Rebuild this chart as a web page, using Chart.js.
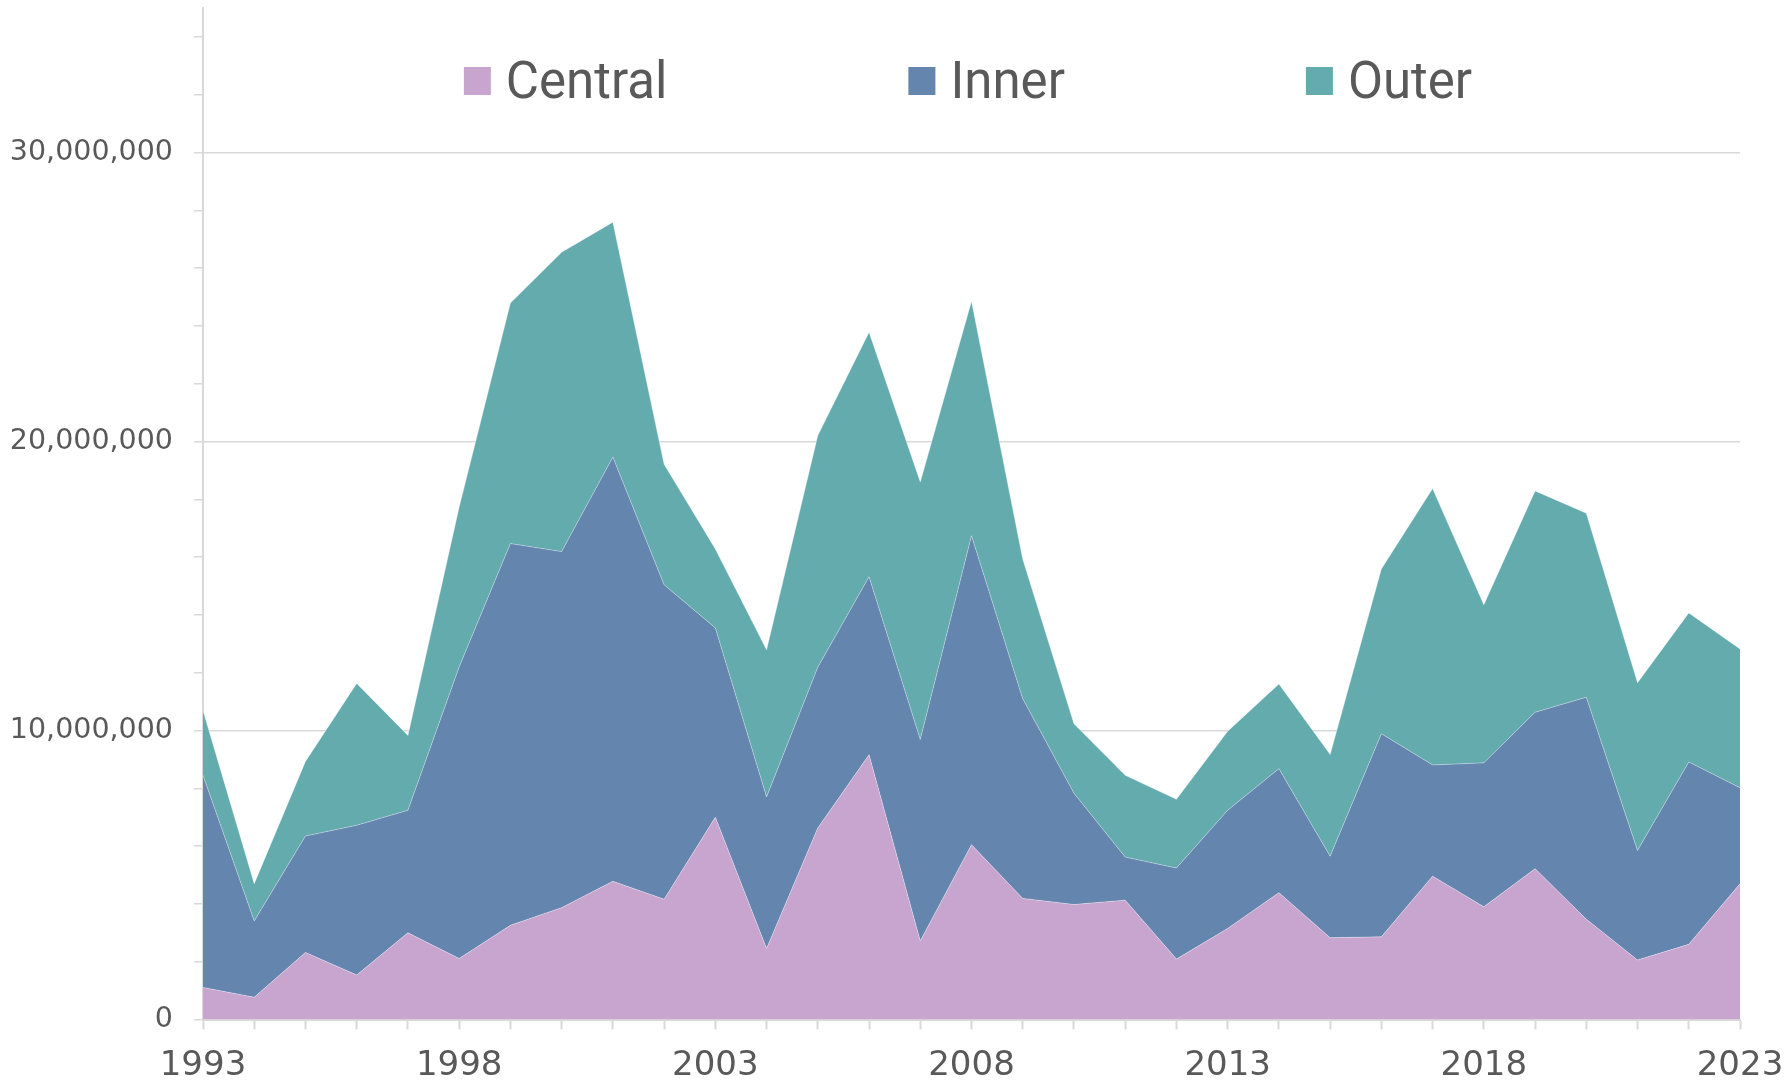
<!DOCTYPE html>
<html>
<head>
<meta charset="utf-8">
<script src="https://cdn.jsdelivr.net/npm/chart.js@4/dist/chart.umd.min.js"></script>
<style>
  html, body { margin: 0; padding: 0; background: #ffffff; overflow: hidden; }
  #wrap { width: 1792px; height: 1086px; }
</style>
</head>
<body>
<div id="wrap"><canvas id="c" width="1792" height="1086"></canvas></div>
<script>
const years = [1993,1994,1995,1996,1997,1998,1999,2000,2001,2002,2003,2004,2005,2006,2007,2008,2009,2010,2011,2012,2013,2014,2015,2016,2017,2018,2019,2020,2021,2022,2023];
const seriesNames = ['Central', 'Inner', 'Outer'];
const central = [1110000,770000,2320000,1540000,3000000,2110000,3260000,3870000,4780000,4160000,7000000,2460000,6630000,9160000,2720000,6050000,4190000,3980000,4130000,2090000,3150000,4390000,2830000,2860000,4960000,3900000,5220000,3470000,2060000,2600000,4700000];
const inner = [7340000,2640000,4030000,5180000,4240000,10090000,13210000,12320000,14680000,10880000,6550000,5240000,5560000,6160000,6970000,10690000,6910000,3850000,1490000,3150000,4090000,4290000,2820000,7030000,3850000,4980000,5410000,7680000,3790000,6310000,3320000];
const outer = [2240000,1290000,2580000,4910000,2590000,5530000,8320000,10360000,8130000,4170000,2730000,5090000,8020000,8460000,8910000,8110000,4830000,2400000,2830000,2380000,2730000,2930000,3520000,5700000,9560000,5470000,7660000,6370000,5800000,5160000,4800000];
const yTickValues = [0, 10000000, 20000000, 30000000];
const yMinorTicks = [0,2000000,4000000,6000000,8000000,10000000,12000000,14000000,16000000,18000000,20000000,22000000,24000000,26000000,28000000,30000000,32000000,34000000];
const yMax = 35000000;
const xLabelYears = [1993, 1998, 2003, 2008, 2013, 2018, 2023];

const colors = ['#C8A5CF', '#6385AE', '#64ABAE'];
const textColor = '#595959';
const gridColor = '#D9D9D9';

const legendPlugin = {
  id: 'customLegend',
  afterDraw(chart) {
    const ctx = chart.ctx;
    const box = 27, gapText = 15, gapItem = 241;
    ctx.save();
    ctx.font = '51px Roboto';
    ctx.textBaseline = 'alphabetic';
    ctx.textAlign = 'left';
    const widths = chart.data.datasets.map(d => box + gapText + ctx.measureText(d.label).width);
    const total = widths.reduce((a, b) => a + b, 0) + gapItem * (widths.length - 1);
    const ca = chart.chartArea;
    let x = (ca.left + ca.right) / 2 - 3.5 - total / 2;
    const boxTop = 67, baseline = 98;
    chart.data.datasets.forEach((d, i) => {
      ctx.fillStyle = d.backgroundColor;
      ctx.fillRect(x, boxTop, box, box + 1);
      ctx.fillStyle = textColor;
      ctx.fillText(d.label, x + box + gapText, baseline);
      x += widths[i] + gapItem;
    });
    ctx.restore();
  }
};

const values = [central, inner, outer];
new Chart(document.getElementById('c'), {
  type: 'line',
  data: {
    labels: years.map(String),
    datasets: seriesNames.map((name, i) => ({
      label: name,
      data: values[i],
      backgroundColor: colors[i],
      borderColor: 'rgba(255,255,255,0.45)',
      borderWidth: 0.8,
      pointRadius: 0,
      tension: 0,
      fill: i === 0 ? 'origin' : '-1'
    }))
  },
  options: {
    responsive: false,
    devicePixelRatio: 1,
    animation: false,
    layout: { padding: { left: 0, right: 52, top: 8, bottom: 0 } },
    plugins: { legend: { display: false }, tooltip: { enabled: false } },
    scales: {
      x: {
        type: 'category',
        offset: false,
        afterFit(scale) {
          scale.height = 66.5;
          scale.paddingLeft = 0;
          scale.paddingRight = 0;
        },
        grid: {
          display: true,
          drawOnChartArea: false,
          drawTicks: true,
          tickLength: 10,
          tickColor: gridColor,
          tickWidth: 2
        },
        border: { display: true, color: gridColor, width: 2 },
        ticks: {
          autoSkip: false,
          maxRotation: 0,
          minRotation: 0,
          padding: 16,
          color: textColor,
          font: { family: 'DejaVu Sans', size: 34 },
          callback: function(v, idx) {
            const y = years[idx];
            return xLabelYears.includes(y) ? String(y) : '';
          }
        }
      },
      y: {
        stacked: true,
        min: 0,
        max: yMax,
        afterBuildTicks(scale) {
          scale.ticks = yMinorTicks.map(v => ({ value: v }));
        },
        afterFit(scale) {
          scale.width = 203;
          scale.paddingTop = 0;
          scale.paddingBottom = 0;
        },
        grid: {
          display: true,
          drawTicks: true,
          tickLength: 9,
          tickColor: gridColor,
          tickWidth: 1.5,
          lineWidth: 1.5,
          color: (c) => (c.tick && c.tick.value !== 0 && yTickValues.includes(c.tick.value)) ? gridColor : 'rgba(0,0,0,0)'
        },
        border: { display: true, color: gridColor, width: 2 },
        ticks: {
          autoSkip: false,
          padding: 21,
          color: textColor,
          font: { family: 'DejaVu Sans', size: 28.5 },
          callback: function(v) {
            return yTickValues.includes(v) ? v.toLocaleString('en-US') : '';
          }
        }
      }
    }
  },
  plugins: [legendPlugin]
});
</script>
</body>
</html>
